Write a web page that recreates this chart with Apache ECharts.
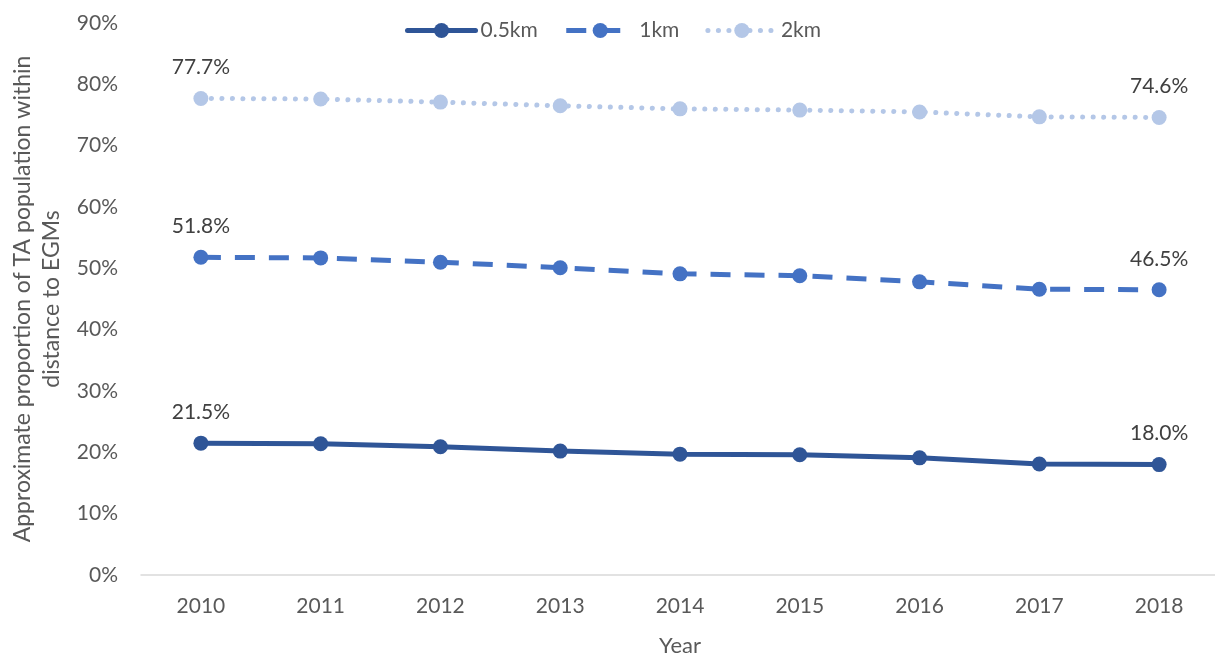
<!DOCTYPE html>
<html><head><meta charset="utf-8">
<script src="https://cdn.jsdelivr.net/npm/echarts@6/dist/echarts.min.js"></script>
<style>html,body{margin:0;padding:0;background:#fff}#c{width:1215px;height:655px}</style>
</head><body><div id="c"></div>
<script>
const years = ['2010','2011','2012','2013','2014','2015','2016','2017','2018'];
const s05 = [21.5, 21.4, 20.9, 20.2, 19.7, 19.6, 19.1, 18.1, 18.0];
const s1 = [51.8, 51.7, 51.0, 50.1, 49.1, 48.8, 47.8, 46.6, 46.5];
const s2 = [77.7, 77.6, 77.1, 76.5, 76.0, 75.8, 75.5, 74.7, 74.6];
const names = ['0.5km','1km','2km'];
const colors = ['#2F5597','#4472C4','#B4C7E7'];
const font = 'Lato, "Noto Sans", sans-serif';
function mk(name, data, color, type, cap){
  return {
    name, type:'line', data, symbol:'circle', symbolSize:15,
    lineStyle:{color, width:5, type, cap},
    itemStyle:{color},
    label:{show:true, position:'top', distance:13, color:'#404040', fontSize:21, fontFamily:font,
      formatter:p => (p.dataIndex===0 || p.dataIndex===data.length-1) ? p.value.toFixed(1)+'%' : ''},
    emphasis:{disabled:true}
  };
}
const chart = echarts.init(document.getElementById('c'));
chart.setOption({
  animation:false,
  textStyle:{fontFamily:font},
  legend:{top:15, left:400, itemWidth:68, itemHeight:19, itemGap:26,
    lineStyle:{width:5},
    textStyle:{fontSize:21, color:'#595959', fontFamily:font}, data:names},
  grid:{left:141, right:-4, top:23, bottom:80, outerBoundsMode:'none', containLabel:false},
  xAxis:{type:'category', data:years, boundaryGap:true,
    name:'Year', nameLocation:'middle', nameGap:60,
    nameTextStyle:{fontSize:22, color:'#595959', fontFamily:font},
    axisLine:{lineStyle:{color:'#D9D9D9', width:1.5}}, axisTick:{show:false},
    axisLabel:{fontSize:21, color:'#595959', margin:21, fontFamily:font}},
  yAxis:{type:'value', min:0, max:90, interval:10,
    name:'Approximate proportion of TA population within\ndistance to EGMs', nameLocation:'middle', nameGap:72,
    nameTextStyle:{fontSize:23, color:'#595959', fontFamily:font, lineHeight:29},
    axisLine:{show:false}, axisTick:{show:false}, splitLine:{show:false},
    axisLabel:{fontSize:21, color:'#595959', margin:23, formatter:'{value}%', fontFamily:font}},
  series:[mk(names[0], s05, colors[0], 'solid', 'round'), mk(names[1], s1, colors[1], [20,14], 'butt'), mk(names[2], s2, colors[2], [0.1,10.4], 'round')]
});
</script></body></html>
